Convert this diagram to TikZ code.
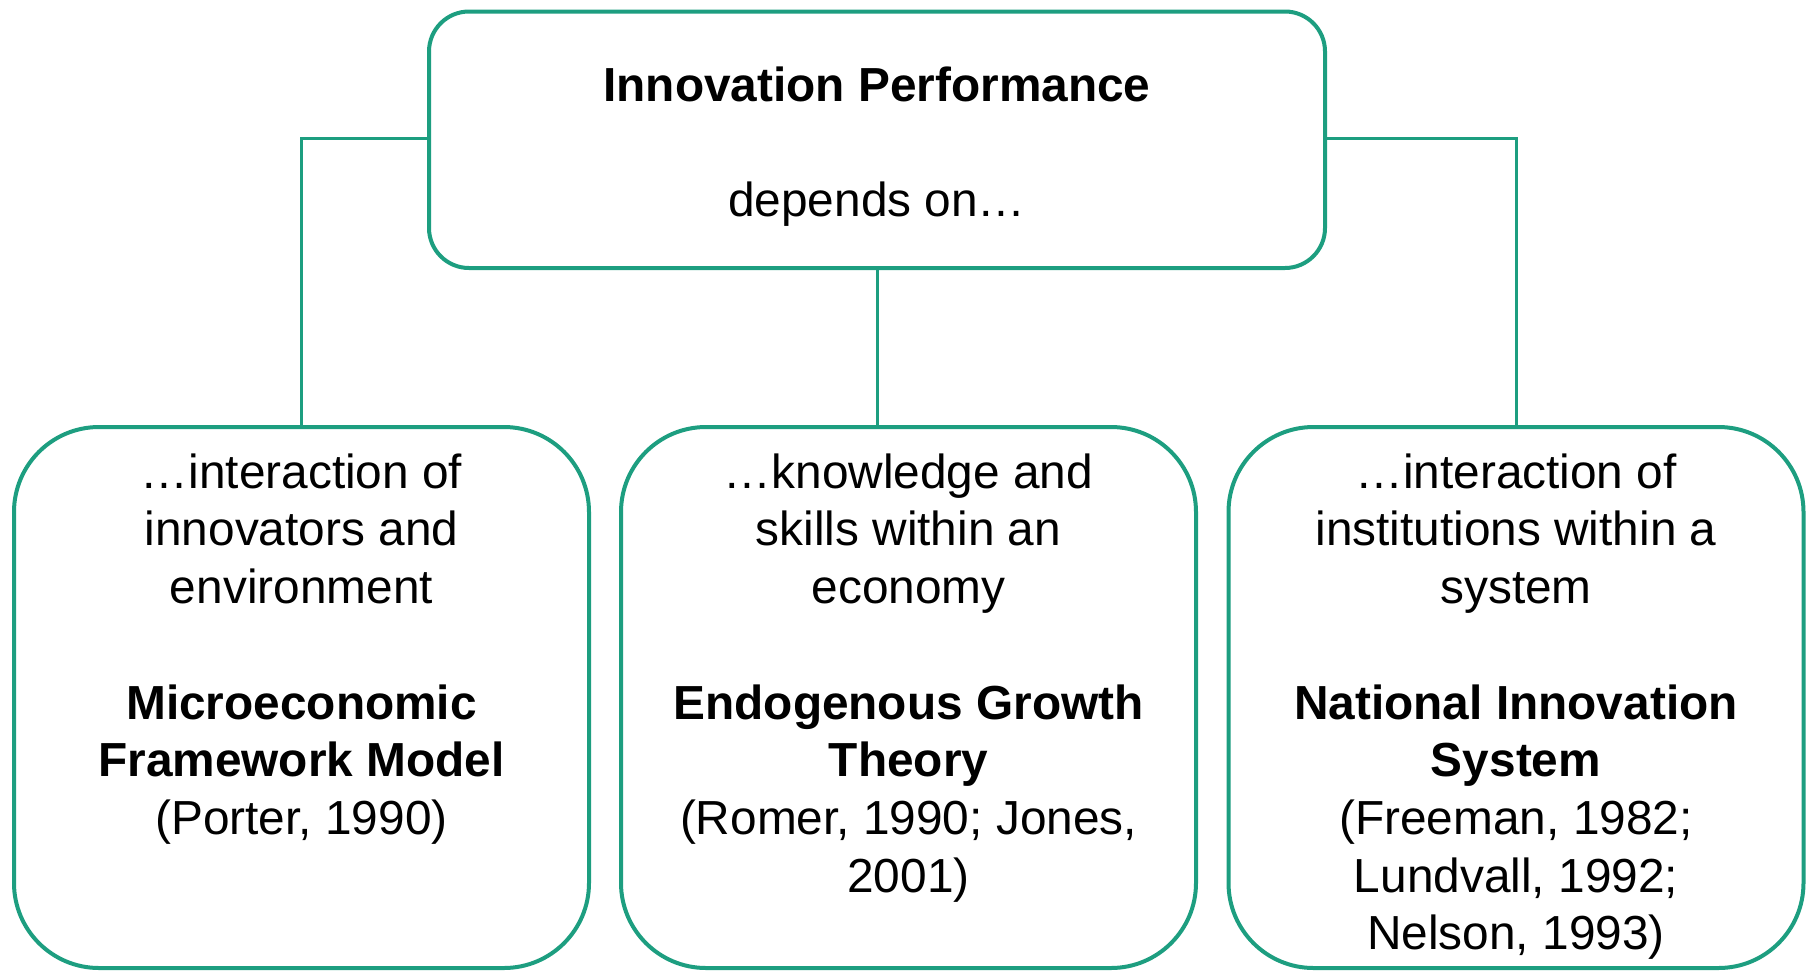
\documentclass[tikz,border=0pt]{standalone}
\usepackage{fontspec}
\setmainfont{Liberation Sans}
\definecolor{teal1}{RGB}{29,158,128}
\begin{document}
\begin{tikzpicture}[x=1pt,y=-1pt,
  topbox/.style={draw=teal1, line width=4pt, rounded corners=40pt, inner sep=0pt, fill=white},
  botbox/.style={draw=teal1, line width=4pt, rounded corners=85pt, inner sep=0pt, fill=white},
  conn/.style={draw=teal1, line width=3pt},
  txt/.style={font=\fontsize{47.8pt}{57.7pt}\selectfont, align=center, inner sep=0pt, anchor=north}]
\useasboundingbox (0,0) rectangle (1810,970);
% connectors (behind boxes)
\coordinate (tw) at (429,138.5);
\coordinate (te) at (1325,138.5);
\coordinate (tm) at (877,268);
\coordinate (lt) at (301.5,427);
\coordinate (mt) at (877,427);
\coordinate (rt) at (1516,427);
\draw[conn] (tw) -| (lt);
\draw[conn] (te) -| (rt);
\draw[conn] (tm) -- (mt);
% boxes
\node[topbox, minimum width=896pt, minimum height=256.5pt] (top) at (877,139.75) {};
\node[botbox, minimum width=575pt, minimum height=541pt] (left) at (301.5,697.5) {};
\node[botbox, minimum width=575pt, minimum height=541pt] (mid) at (908.5,697.5) {};
\node[botbox, minimum width=575pt, minimum height=541pt] (right) at (1516,697.5) {};
% texts
\node[txt] (toptext) at (877,60.6) {\strut\textbf{Innovation Performance}\\\strut\\\strut depends on…};
\node[txt] (lefttext) at (301.5,447.6) {\strut…interaction of\\\strut innovators and\\\strut environment\\\strut\\\strut\textbf{Microeconomic}\\\strut\textbf{Framework Model}\\\strut(Porter, 1990)};
\node[txt] (midtext) at (908.5,447.6) {\strut…knowledge and\\\strut skills within an\\\strut economy\\\strut\\\strut\textbf{Endogenous Growth}\\\strut\textbf{Theory}\\\strut(Romer, 1990; Jones,\\\strut 2001)};
\node[txt] (righttext) at (1516,447.6) {\strut…interaction of\\\strut institutions within a\\\strut system\\\strut\\\strut\textbf{National Innovation}\\\strut\textbf{System}\\\strut(Freeman, 1982;\\\strut Lundvall, 1992;\\\strut Nelson, 1993)};
\end{tikzpicture}
\end{document}
